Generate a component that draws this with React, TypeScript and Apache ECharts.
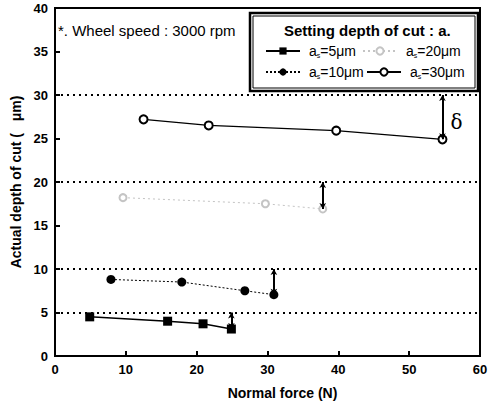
import React, { useEffect, useRef } from "react";
import * as echarts from "echarts";

const xTicks = [0, 10, 20, 30, 40, 50, 60];
const yTicks = [0, 5, 10, 15, 20, 25, 30, 35, 40];

const seriesNames = ["a5", "a10", "a20", "a30"];
const setDepths = [5, 10, 20, 30];
const legendLabels = ["=5μm", "=10μm", "=20μm", "=30μm"];

const force5 = [4.9, 15.9, 20.9, 24.9];
const depth5 = [4.5, 4.0, 3.7, 3.1];
const force10 = [7.9, 17.9, 26.8, 30.9];
const depth10 = [8.8, 8.5, 7.5, 7.05];
const force20 = [9.6, 29.7, 37.8];
const depth20 = [18.2, 17.5, 16.9];
const force30 = [12.5, 21.7, 39.7, 54.7];
const depth30 = [27.2, 26.5, 25.9, 24.9];

const FONT = "'Liberation Sans', Arial, sans-serif";

function pairs(xs: number[], ys: number[]) {
  return xs.map((x, i) => [x, ys[i]]);
}

function marks(set: number, xs: number[], ys: number[]) {
  const xl = xs[xs.length - 1];
  const yl = ys[ys.length - 1];
  return {
    silent: true,
    symbol: ["none", "none"],
    label: { show: false },
    data: [
      {
        yAxis: set,
        lineStyle: { color: "#000", type: [2, 4], width: 2 },
      },
      [
        {
          coord: [xl, set],
          symbol: "arrow",
          symbolSize: [5, 6],
          lineStyle: { color: "#000", type: "solid", width: 2 },
        },
        { coord: [xl, yl], symbol: "arrow", symbolSize: [5, 6] },
      ],
    ],
  };
}

export default function App() {
  const ref = useRef<HTMLDivElement>(null);
  useEffect(() => {
    if (!ref.current) return;
    const chart = echarts.init(ref.current, undefined, { renderer: "svg" });
    const rich = {
      a: { fontSize: 14, fontFamily: FONT, color: "#000" },
      p: { fontSize: 14, fontFamily: FONT, color: "#000", padding: [0, 0, 0, 4] },
      s: { fontSize: 7, fontFamily: FONT, color: "#000", padding: [9, 0, 0, 0] },
    };
    const legendPos = [
      { left: 265, top: 44 },
      { left: 265, top: 65 },
      { left: 362, top: 44 },
      { left: 366, top: 65 },
    ];
    const option: any = {
      animation: false,
      backgroundColor: "#fff",
      grid: {
        left: 55,
        right: 13,
        top: 8,
        bottom: 53,
        show: true,
        borderColor: "#000",
        borderWidth: 2,
      },
      xAxis: {
        type: "value",
        min: xTicks[0],
        max: xTicks[xTicks.length - 1],
        interval: 10,
        name: "Normal force (N)",
        nameLocation: "middle",
        nameGap: 30,
        nameTextStyle: {
          fontFamily: FONT,
          fontWeight: "bold",
          fontSize: 14,
          color: "#000",
          padding: [0, 0, 0, 30],
        },
        axisLine: { show: true, lineStyle: { color: "#000", width: 2 } },
        axisTick: { show: true, inside: true, length: 5, lineStyle: { color: "#000", width: 2 } },
        axisLabel: { fontFamily: FONT, fontWeight: "bold", fontSize: 13, color: "#000", margin: 7 },
        splitLine: { show: false },
      },
      yAxis: {
        type: "value",
        min: yTicks[0],
        max: yTicks[yTicks.length - 1],
        interval: 5,
        name: "Actual depth of cut (   μm)",
        nameLocation: "middle",
        nameGap: 29,
        nameTextStyle: {
          fontFamily: FONT,
          fontWeight: "bold",
          fontSize: 14,
          color: "#000",
        },
        axisLine: { show: true, lineStyle: { color: "#000", width: 2 } },
        axisTick: { show: true, inside: true, length: 5, lineStyle: { color: "#000", width: 2 } },
        axisLabel: { fontFamily: FONT, fontWeight: "bold", fontSize: 13, color: "#000", margin: 7 },
        splitLine: { show: false },
      },
      legend: seriesNames.map((n, i) => ({
        data: [n],
        left: legendPos[i].left,
        top: legendPos[i].top,
        itemWidth: 34,
        itemHeight: 9,
        itemGap: 0,
        padding: 0,
        selectedMode: false,
        formatter: () => `{p|a}{s|s}{a|${legendLabels[i]}}`,
        textStyle: { rich, fontSize: 14, fontFamily: FONT, color: "#000" },
      })),
      graphic: [
        {
          type: "text",
          left: 58,
          top: 23,
          style: {
            text: "*. Wheel speed : 3000 rpm",
            fontFamily: FONT,
            fontSize: 15,
            fill: "#000",
          },
        },
        {
          type: "rect",
          shape: { x: 250, y: 13, width: 228, height: 78 },
          style: { fill: "#fff", stroke: "#000", lineWidth: 2.5 },
          z: 0,
        },
        {
          type: "rect",
          shape: { x: 253, y: 16, width: 222, height: 72 },
          style: { fill: "none", stroke: "#000", lineWidth: 1 },
          z: 0,
        },
        {
          type: "text",
          left: 284,
          top: 23,
          z: 10,
          style: {
            text: "Setting depth of cut : a.",
            fontFamily: FONT,
            fontWeight: "bold",
            fontSize: 15,
            fill: "#000",
          },
        },
      ],
      series: [
        {
          name: seriesNames[0],
          type: "line",
          data: pairs(force5, depth5),
          symbol: "rect",
          symbolSize: 9,
          itemStyle: { color: "#000" },
          lineStyle: { color: "#000", width: 1.5, type: "solid" },
          markLine: marks(setDepths[0], force5, depth5),
        },
        {
          name: seriesNames[1],
          type: "line",
          data: pairs(force10, depth10),
          symbol: "circle",
          symbolSize: 9,
          itemStyle: { color: "#000" },
          lineStyle: { color: "#000", width: 1, type: [2, 2] },
          markLine: marks(setDepths[1], force10, depth10),
        },
        {
          name: seriesNames[2],
          type: "line",
          data: pairs(force20, depth20),
          symbol: "emptyCircle",
          symbolSize: 7,
          itemStyle: { color: "#c4c4c4", borderColor: "#c4c4c4" },
          lineStyle: { color: "#c4c4c4", width: 1, type: [2, 3] },
          markLine: marks(setDepths[2], force20, depth20),
        },
        {
          name: seriesNames[3],
          type: "line",
          data: pairs(force30, depth30),
          symbol: "emptyCircle",
          symbolSize: 8,
          itemStyle: { color: "#000", borderColor: "#000", borderWidth: 1.2 },
          lineStyle: { color: "#000", width: 1.2, type: "solid" },
          markLine: marks(setDepths[3], force30, depth30),
          markPoint: {
            silent: true,
            symbol: "circle",
            symbolSize: 0,
            data: [
              {
                coord: [force30[force30.length - 1], (setDepths[3] + depth30[depth30.length - 1]) / 2 - 0.5],
              },
            ],
            label: {
              show: true,
              formatter: "δ",
              position: "right",
              distance: 8,
              fontFamily: "'DejaVu Serif', serif",
              fontSize: 20,
              color: "#000",
            },
          },
        },
      ],
    };
    chart.setOption(option);
    return () => chart.dispose();
  }, []);
  return <div ref={ref} style={{ width: 493, height: 409, position: "absolute", left: 0, top: 0 }} />;
}
